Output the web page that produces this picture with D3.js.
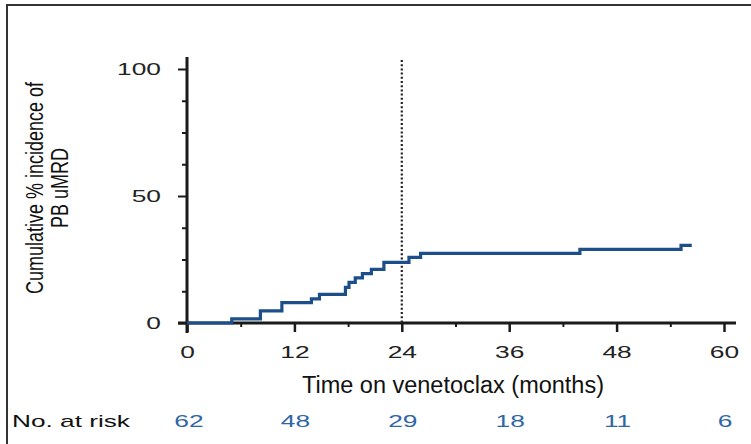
<!DOCTYPE html>
<html>
<head>
<meta charset="utf-8">
<script src="https://cdn.jsdelivr.net/npm/d3@7"></script>
<style>
  html, body { margin: 0; padding: 0; background: #fff; }
  svg { display: block; }
  text { font-family: "Liberation Sans", Arial, sans-serif; }
</style>
</head>
<body>
<svg id="chart" width="751" height="444"></svg>
<script>
// Cumulative incidence of PB uMRD over time on venetoclax
const months    = [0, 5.0, 8.2, 10.6, 13.9, 14.8, 17.7, 18.1, 18.8, 19.6, 20.6, 22.0, 24.8, 26.1, 43.9, 55.2, 56.4];
const incidence = [0, 1.6, 4.8,  8.0,  9.5, 11.3, 14.0, 16.0, 17.8, 19.4, 21.1, 23.9, 25.8, 27.4, 29.0, 30.6, 30.6];
const xTicks = [0, 12, 24, 36, 48, 60];
const xMinorTicks = [6, 18, 30, 42, 54];
const yTicks = [0, 50, 100];
const yMinorTicks = [12.5, 25, 37.5, 62.5, 75, 87.5];
const atRisk = [62, 48, 29, 18, 11, 6];
const landmark = 24;

const svg = d3.select("#chart");
const x = d3.scaleLinear().domain([0, 60]).range([187, 724]);
const y = d3.scaleLinear().domain([0, 100]).range([323, 69]);

const ink = "#1a1a1a";
const lineBlue = "#1c4f8a";
const riskBlue = "#2f66a6";
const wide = 1.55;   // horizontal stretch of the numeric labels
const labelSize = "17px";

// outer frame (top and left edges)
svg.append("path")
  .attr("d", "M7,444 V5 H751")
  .attr("fill", "none").attr("stroke", "#333").attr("stroke-width", 2);

// x axis
const xAxisG = svg.append("g").attr("transform", `translate(0,${y(0)})`);
xAxisG.append("line").attr("x1", 178).attr("x2", 736).attr("stroke", ink).attr("stroke-width", 3);
{
  const sub = xAxisG.append("g")
    .call(d3.axisBottom(x).tickValues(xTicks).tickSize(9).tickPadding(14).tickFormat(d3.format("d")));
  sub.select(".domain").remove();
  sub.selectAll(".tick line").attr("stroke", ink).attr("stroke-width", 2.5);
  sub.selectAll(".tick text").attr("fill", "#222")
     .style("font-size", labelSize)
     .style("font-family", "'Liberation Sans', Arial, sans-serif")
     .attr("transform", `scale(${wide},1)`);
  const sub2 = xAxisG.append("g")
    .call(d3.axisBottom(x).tickValues(xMinorTicks).tickSize(4).tickFormat(""));
  sub2.select(".domain").remove();
  sub2.selectAll(".tick line").attr("stroke", ink).attr("stroke-width", 2);
}

// y axis
const yAxisG = svg.append("g").attr("transform", `translate(${x(0)},0)`);
yAxisG.append("line").attr("y1", 57).attr("y2", 333).attr("stroke", ink).attr("stroke-width", 3);
{
  const sub = yAxisG.append("g")
    .call(d3.axisLeft(y).tickValues(yTicks).tickSize(9).tickPadding(8));
  sub.select(".domain").remove();
  sub.selectAll(".tick line").attr("stroke", ink).attr("stroke-width", 2);
  sub.selectAll(".tick text").attr("fill", "#222")
     .style("font-size", labelSize)
     .style("font-family", "'Liberation Sans', Arial, sans-serif")
     .attr("x", -26 / wide)
     .attr("transform", `scale(${wide},1)`);
  const sub2 = yAxisG.append("g")
    .call(d3.axisLeft(y).tickValues(yMinorTicks).tickSize(5).tickFormat(""));
  sub2.select(".domain").remove();
  sub2.selectAll(".tick line").attr("stroke", ink).attr("stroke-width", 2);
}

// 24-month landmark
svg.append("line")
  .attr("x1", x(landmark)).attr("x2", x(landmark))
  .attr("y1", 60).attr("y2", y(0))
  .attr("stroke", "#222").attr("stroke-width", 2.2)
  .attr("stroke-dasharray", "2,2.2");

// step curve
const pts = months.map((m, i) => [m, incidence[i]]);
svg.append("path")
  .datum(pts)
  .attr("fill", "none")
  .attr("stroke", lineBlue)
  .attr("stroke-width", 3.2)
  .attr("d", d3.line().x(d => x(d[0])).y(d => y(d[1])).curve(d3.curveStepAfter));

// axis titles (condensed)
const titleFont = "'Liberation Sans', Arial, sans-serif";
svg.append("text")
  .attr("x", 453).attr("y", 393)
  .attr("text-anchor", "middle")
  .attr("textLength", 302).attr("lengthAdjust", "spacingAndGlyphs")
  .style("font-family", titleFont).style("font-size", "23px").attr("fill", "#111")
  .text("Time on venetoclax (months)");

const yTitle = svg.append("g").attr("transform", "translate(0,188) rotate(-90)");
yTitle.append("text")
  .attr("x", 0).attr("y", 43)
  .attr("text-anchor", "middle")
  .attr("textLength", 212).attr("lengthAdjust", "spacingAndGlyphs")
  .style("font-family", titleFont).style("font-size", "23px").attr("fill", "#111")
  .text("Cumulative % incidence of");
yTitle.append("text")
  .attr("x", 0).attr("y", 68)
  .attr("text-anchor", "middle")
  .attr("textLength", 80).attr("lengthAdjust", "spacingAndGlyphs")
  .style("font-family", titleFont).style("font-size", "23px").attr("fill", "#111")
  .text("PB uMRD");

// number at risk
svg.append("text")
  .attr("x", 12).attr("y", 427)
  .attr("textLength", 118).attr("lengthAdjust", "spacingAndGlyphs")
  .style("font-size", labelSize).attr("fill", "#111")
  .text("No. at risk");
svg.append("g").selectAll("text")
  .data(xTicks)
  .join("text")
  .attr("transform", (d, i) => `translate(${x(d) + (i === 0 ? 2 : 1)},427) scale(${wide},1)`)
  .attr("text-anchor", "middle")
  .style("font-size", labelSize)
  .attr("fill", riskBlue)
  .text((d, i) => atRisk[i]);
</script>
</body>
</html>
